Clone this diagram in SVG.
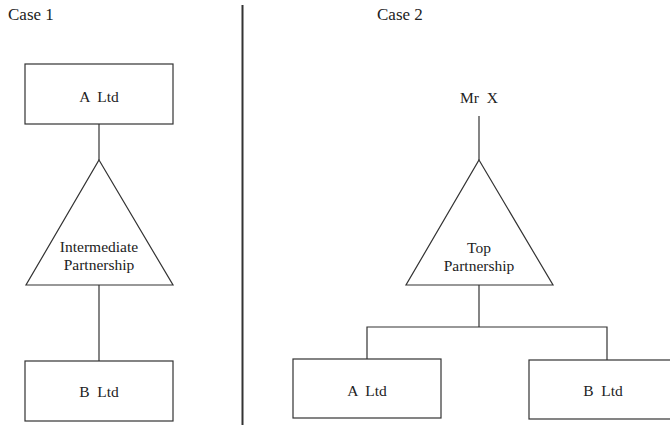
<svg xmlns="http://www.w3.org/2000/svg" width="670" height="425" viewBox="0 0 670 425">
<style>
.b{fill:#fff;stroke:#333;stroke-width:1.2}
.l{fill:none;stroke:#333;stroke-width:1.2}
text{font-family:"Liberation Serif","Times New Roman",serif;fill:#222;white-space:pre}
.h{font-size:17px}
.t{font-size:15.5px;text-anchor:middle}
</style>
<rect width="670" height="425" fill="#fff"/>
<text class="h" x="8" y="20">Case 1</text>
<text class="h" x="377" y="20">Case 2</text>
<line x1="242.5" y1="5" x2="242.5" y2="425" stroke="#333" stroke-width="2"/>
<g id="connectors">
<line class="l" x1="99" y1="124" x2="99" y2="160"/>
<line class="l" x1="99" y1="285" x2="99" y2="361"/>
<line class="l" x1="479" y1="116" x2="479" y2="160"/>
<line class="l" x1="479" y1="285" x2="479" y2="327"/>
<polyline class="l" points="367,359 367,327 607,327 607,360"/>
</g>
<g id="c1-altd"><rect class="b" x="25" y="64" width="148" height="60"/><text class="t" x="99" y="102" xml:space="preserve">A  Ltd</text></g>
<g id="c1-partnership"><polygon class="b" points="99,160 173,285 26,285"/><text class="t" x="99" y="252">Intermediate</text><text class="t" x="99" y="270">Partnership</text></g>
<g id="c1-bltd"><rect class="b" x="25" y="361" width="148" height="60"/><text class="t" x="99" y="397" xml:space="preserve">B  Ltd</text></g>
<g id="c2-mrx"><text class="t" x="479" y="103" xml:space="preserve">Mr  X</text></g>
<g id="c2-partnership"><polygon class="b" points="479,160 553,285 406,285"/><text class="t" x="479" y="253">Top</text><text class="t" x="479" y="271">Partnership</text></g>
<g id="c2-altd"><rect class="b" x="293" y="359" width="148" height="59"/><text class="t" x="367" y="396" xml:space="preserve">A  Ltd</text></g>
<g id="c2-bltd"><rect class="b" x="529" y="360" width="148" height="59"/><text class="t" x="603" y="396" xml:space="preserve">B  Ltd</text></g>
</svg>
